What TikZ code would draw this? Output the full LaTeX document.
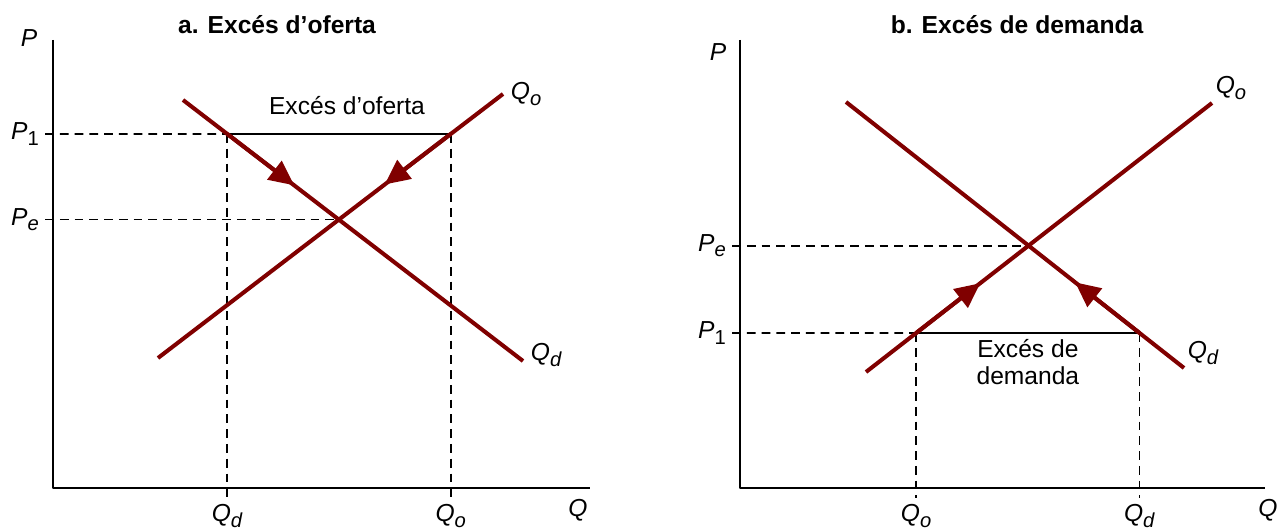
\documentclass[tikz,border=0pt]{standalone}
\usepackage{fontspec}
\setmainfont{Liberation Sans}
\usetikzlibrary{arrows.meta,calc}
\definecolor{curvered}{HTML}{800000}
\newcommand{\picfont}{\fontsize{14}{15.5}\selectfont}
\newcommand{\varlbl}[2]{\textit{#1}\raisebox{-0.45ex}{\fontsize{11.5}{12}\selectfont #2}}
\tikzset{
	axis/.style={line width=1.1pt},
	guide/.style={line width=1pt, dash pattern=on 5pt off 3.4pt},
	curve/.style={curvered, line width=2.3pt, line cap=butt},
	towards/.style={curve, -{Triangle[length=0.5cm, width=0.46cm]}},
	title/.style={font=\picfont\bfseries},
	curvelbl/.style={text=black},
}
\begin{document}
\begin{tikzpicture}[font=\picfont, line join=round]
	\useasboundingbox (0,0) rectangle (25.64,10.6);
	% titles
	\node[title] (titlea) at (5.54,10.1) {a. Excés d’oferta};
	\node[title] (titleb) at (20.34,10.1) {b. Excés de demanda};
	% panel a: excess supply
	\begin{scope}[shift={(1.06,0.84)}]
		\draw[axis] (0,8.96) -- (0,0) -- (10.74,0);
		\node (pa) at (-0.48,9.0) {\textit{P}};
		\node (qa) at (10.5,-0.44) {\textit{Q}};
		\coordinate (Da1) at (2.6,7.76);
		\coordinate (Da2) at (9.4,2.54);
		\coordinate (Sa1) at (2.1,2.6);
		\coordinate (Sa2) at (9.0,7.88);
		\coordinate (La) at (-0.16,7.08);
		\coordinate (Ra) at (10,7.08);
		\coordinate (Ya) at (-0.16,0);
		\coordinate (Ea) at (intersection of Da1--Da2 and Sa1--Sa2);
		\coordinate (Dqa) at (intersection of Da1--Da2 and La--Ra);
		\coordinate (Sqa) at (intersection of Sa1--Sa2 and La--Ra);
		\draw[guide] (La) -- (Dqa);
		\draw[guide] (Ea -| Ya) -- (Ea);
		\draw[guide] (Dqa) -- (Dqa |- 0,-0.2);
		\draw[guide] (Sqa) -- (Sqa |- 0,-0.2);
		\draw[axis] (Dqa) -- (Sqa);
		\node[left] (p1a) at (La) {\varlbl{P}{1}};
		\node[left] (pea) at (Ea -| Ya) {\varlbl{P}{\textit{e}}};
		\node[below] (qda) at (Dqa |- 0,-0.2) {\varlbl{Q}{\textit{d}}};
		\node[below] (qoa) at (Sqa |- 0,-0.2) {\varlbl{Q}{\textit{o}}};
		\node (exa) at (5.88,7.64) {Excés d’oferta};
		% curves
		\draw[curve] (Da1) -- (Da2) node[curvelbl, right, yshift=0.12cm] (lqda) {\varlbl{Q}{\textit{d}}};
		\draw[curve] (Sa1) -- (Sa2) node[curvelbl, right] (lqoa) {\varlbl{Q}{\textit{o}}};
		\draw[towards] (Dqa) -- ($(Dqa)!0.6!(Ea)$);
		\draw[towards] (Sqa) -- ($(Sqa)!0.59!(Ea)$);
	\end{scope}
	% panel b: excess demand
	\begin{scope}[shift={(14.8,0.84)}]
		\draw[axis] (0,8.96) -- (0,0) -- (10.5,0);
		\node (pb) at (-0.44,8.72) {\textit{P}};
		\node (qb) at (10.56,-0.44) {\textit{Q}};
		\coordinate (Db1) at (2.12,7.72);
		\coordinate (Db2) at (8.88,2.4);
		\coordinate (Sb1) at (2.52,2.32);
		\coordinate (Sb2) at (9.44,7.7);
		\coordinate (Lb) at (-0.16,3.1);
		\coordinate (Rb) at (10,3.1);
		\coordinate (Yb) at (-0.16,0);
		\coordinate (Eb) at (intersection of Db1--Db2 and Sb1--Sb2);
		\coordinate (Dqb) at (intersection of Db1--Db2 and Lb--Rb);
		\coordinate (Sqb) at (intersection of Sb1--Sb2 and Lb--Rb);
		\draw[guide] (Lb) -- (Sqb);
		\draw[guide] (Eb -| Yb) -- (Eb);
		\draw[guide] (Sqb) -- (Sqb |- 0,-0.2);
		\draw[guide] (Dqb) -- (Dqb |- 0,-0.2);
		\draw[axis] (Sqb) -- (Dqb);
		\node[left] (p1b) at (Lb) {\varlbl{P}{1}};
		\node[left] (peb) at (Eb -| Yb) {\varlbl{P}{\textit{e}}};
		\node[below] (qob) at (Sqb |- 0,-0.2) {\varlbl{Q}{\textit{o}}};
		\node[below] (qdb) at (Dqb |- 0,-0.2) {\varlbl{Q}{\textit{d}}};
		\node[below, align=center] (exb) at ($(Sqb)!0.5!(Dqb)$) {Excés de\\demanda};
		% curves
		\draw[curve] (Db1) -- (Db2) node[curvelbl, above right, inner sep=1pt] (lqdb) {\varlbl{Q}{\textit{d}}};
		\draw[curve] (Sb1) -- (Sb2) node[curvelbl, above right, inner sep=1pt] (lqob) {\varlbl{Q}{\textit{o}}};
		\draw[towards] (Sqb) -- ($(Sqb)!0.57!(Eb)$);
		\draw[towards] (Dqb) -- ($(Dqb)!0.58!(Eb)$);
	\end{scope}
\end{tikzpicture}
\end{document}
